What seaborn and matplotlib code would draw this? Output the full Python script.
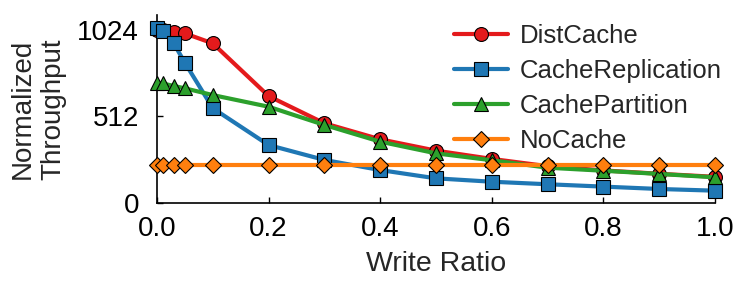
import numpy as np
import pandas as pd
import matplotlib
matplotlib.use('Agg')
import matplotlib.pyplot as plt
import seaborn as sns

write_ratio = [0.0, 0.01, 0.03, 0.05, 0.1, 0.2, 0.3, 0.4, 0.5, 0.6, 0.7, 0.8, 0.9, 1.0]
dist_cache = [1024, 1020, 1011, 1001, 942, 630, 469, 374, 307, 258, 215, 190, 170, 152]
cache_replication = [1031, 1017, 942, 827, 558, 340, 252, 192, 143, 123, 108, 94, 80, 70]
cache_partition = [709, 705, 690, 676, 636, 567, 459, 360, 291, 250, 206, 188, 169, 149]
no_cache = [222] * len(write_ratio)

series = ['DistCache', 'CacheReplication', 'CachePartition', 'NoCache']
values = [dist_cache, cache_replication, cache_partition, no_cache]
colors = ['#e41a1c', '#1f77b4', '#2ca02c', '#ff7f0e']
markers = ['o', 's', '^', 'D']
sizes = [10, 10, 10.5, 8.5]

sns.set_style('ticks')
plt.rcParams['font.family'] = ['Liberation Sans', 'DejaVu Sans']
plt.rcParams['font.size'] = 20

fig = plt.figure(figsize=(7.48, 2.92), dpi=100)
ax = fig.add_axes([0.2099, 0.3065, 0.956 - 0.2099, 0.9486 - 0.3065])

for name, vals, col, mk, ms in zip(series, values, colors, markers, sizes):
    df = pd.DataFrame({'x': write_ratio, 'y': vals})
    sns.lineplot(data=df, x='x', y='y', ax=ax, color=col, marker=mk,
                 markersize=ms, markeredgecolor='black', markeredgewidth=0.8,
                 linewidth=3, label=name, clip_on=False, zorder=3)

ax.set_xlim(0, 1.0)
ax.set_ylim(0, 1110)
ax.set_xticks([0.0, 0.2, 0.4, 0.6, 0.8, 1.0])
ax.set_xticklabels(['0.0', '0.2', '0.4', '0.6', '0.8', '1.0'])
ax.set_yticks([0, 512, 1024])
ax.tick_params(direction='in', length=4.5, width=1, labelsize=20, colors='black')
ax.tick_params(axis='x', pad=10)
ax.tick_params(axis='y', pad=13)
for side in ['top', 'right']:
    ax.spines[side].set_visible(False)
for side in ['left', 'bottom']:
    ax.spines[side].set_linewidth(1.2)
    ax.spines[side].set_color('black')

ax.set_xlabel('Write Ratio', fontsize=20.5, labelpad=6)
ax.set_ylabel('Normalized\nThroughput', fontsize=20, labelpad=8, linespacing=1.2)

ax.legend(loc='upper right', bbox_to_anchor=(1.03, 1.005), frameon=False, fontsize=18.5,
          handlelength=2.1, handletextpad=0.45, labelspacing=0.42, borderaxespad=0)

fig.savefig('out.png', dpi=100)
